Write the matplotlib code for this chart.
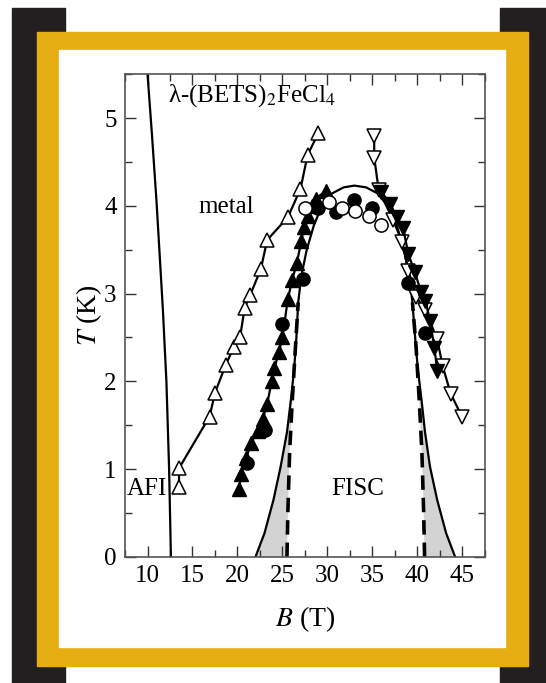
import numpy as np
import matplotlib
matplotlib.use('Agg')
import matplotlib.pyplot as plt
from matplotlib.patches import Rectangle
from matplotlib.ticker import MultipleLocator

plt.rcParams['font.family'] = 'serif'
plt.rcParams['font.serif'] = ['Liberation Serif', 'DejaVu Serif']
plt.rcParams['mathtext.fontset'] = 'stix'

# AFI boundary
afi_B = [10.0, 10.5, 11.0, 11.7, 12.1, 12.4, 12.6]
afi_T = [5.5, 4.8, 4.05, 2.83, 2.0, 1.0, 0.0]

# open up-triangles (metal boundary, low field side)
oup_B = [13.5, 13.5, 16.9, 17.5, 18.7, 19.6, 20.3, 20.8, 21.4, 22.6, 23.3, 25.6, 27.0, 27.8, 29.0]
oup_T = [0.80, 1.01, 1.60, 1.87, 2.19, 2.39, 2.51, 2.84, 2.98, 3.28, 3.61, 3.87, 4.19, 4.58, 4.83]

# open down-triangles (high field side)
odn_B = [35.2, 35.2, 35.7, 37.3, 38.3, 39.0, 39.9, 40.9, 42.2, 42.8, 43.7, 45.0]
odn_T = [4.79, 4.55, 4.18, 3.84, 3.59, 3.26, 2.96, 2.81, 2.48, 2.18, 1.86, 1.59]

# filled up-triangles
fup_B = [20.2, 20.4, 21.0, 21.5, 22.3, 22.8, 23.3, 23.8, 24.1, 24.6, 25.0, 25.6, 26.1, 26.6, 27.1, 27.4, 27.8, 28.3, 28.7, 29.8]
fup_T = [0.78, 0.94, 1.13, 1.30, 1.44, 1.57, 1.74, 2.00, 2.15, 2.33, 2.50, 2.94, 3.16, 3.35, 3.60, 3.76, 3.88, 4.00, 4.08, 4.17]

# filled down-triangles
fdn_B = [36.0, 37.0, 37.7, 38.4, 39.0, 39.7, 40.4, 40.9, 41.4, 41.9, 42.2]
fdn_T = [4.16, 4.02, 3.87, 3.75, 3.45, 3.25, 3.02, 2.92, 2.69, 2.38, 2.12]

# filled circles
fc_B = [21.1, 23.1, 25.0, 27.3, 28.9, 31.0, 33.0, 35.0, 39.0, 40.9]
fc_T = [1.07, 1.45, 2.65, 3.17, 3.97, 3.93, 4.07, 3.97, 3.12, 2.55]

# open circles
oc_B = [27.5, 30.2, 31.6, 33.1, 34.6, 36.0]
oc_T = [3.97, 4.04, 3.98, 3.94, 3.88, 3.78]

# FISC dome (solid)
dome_B = [22.0, 23.0, 24.0, 24.8, 25.5, 25.95, 26.3, 26.55, 26.75, 27.1, 27.7, 28.5, 29.4, 30.5, 31.8,
          33.0, 34.3, 35.6, 36.7, 37.7, 38.5, 39.1, 39.45, 39.75, 40.05, 40.45, 40.85, 41.4, 42.2, 43.2, 44.2]
dome_T = [0.0, 0.27, 0.65, 1.03, 1.42, 1.80, 2.14, 2.5, 2.9, 3.2, 3.5, 3.78, 4.0, 4.14, 4.21,
          4.23, 4.21, 4.14, 4.0, 3.78, 3.5, 3.2, 2.9, 2.5, 2.14, 1.80, 1.42, 1.03, 0.65, 0.27, 0.0]

# dashed boundaries
dl_B = [25.5, 25.6, 25.8, 26.1, 26.45, 26.75]
dl_T = [0.0, 0.5, 1.2, 1.8, 2.4, 2.9]
dr_B = [40.8, 40.7, 40.5, 40.2, 39.85, 39.45]
dr_T = [0.0, 0.5, 1.2, 1.8, 2.4, 2.9]

fig = plt.figure(figsize=(5.46, 6.83), dpi=100)
fig.patch.set_facecolor('white')
blk = '#231f20'
gold = '#e6ae12'
fig.patches.append(Rectangle((0.022, 0.0), 0.097, 0.988, transform=fig.transFigure, color=blk, zorder=0))
fig.patches.append(Rectangle((0.916, 0.0), 0.084, 0.988, transform=fig.transFigure, color=blk, zorder=0))
fig.patches.append(Rectangle((0.068, 0.025), 0.899, 0.928, transform=fig.transFigure, color=gold, zorder=1))
fig.patches.append(Rectangle((0.108, 0.053), 0.817, 0.874, transform=fig.transFigure, color='white', zorder=2))

ax = fig.add_axes([0.229, 0.1845, 0.659, 0.707])
ax.set_zorder(3)

# gray shading between dome and dashed lines (up to T = 1.8)
left_poly_B = dome_B[:6] + dl_B[:4][::-1]
left_poly_T = dome_T[:6] + dl_T[:4][::-1]
ax.fill(left_poly_B, left_poly_T, color='#d3d3d3', lw=0)
right_poly_B = dome_B[-6:] + dr_B[:4]
right_poly_T = dome_T[-6:] + dr_T[:4]
ax.fill(right_poly_B, right_poly_T, color='#d3d3d3', lw=0)

ax.plot(afi_B, afi_T, 'k-', lw=1.6)
ax.plot(dome_B, dome_T, 'k-', lw=1.6)
ax.plot(dl_B, dl_T, 'k--', lw=2.6, dashes=(4, 2.2))
ax.plot(dr_B, dr_T, 'k--', lw=2.6, dashes=(4, 2.2))

ms = 10
ax.plot(oup_B, oup_T, 'k-', marker='^', mfc='white', mec='k', ms=ms, mew=1.1, lw=1.6)
ax.plot(odn_B, odn_T, 'k-', marker='v', mfc='white', mec='k', ms=ms, mew=1.1, lw=1.6)
ax.plot(fup_B, fup_T, 'k-', marker='^', mfc='k', mec='k', ms=ms, lw=1.6)
ax.plot(fdn_B, fdn_T, 'k-', marker='v', mfc='k', mec='k', ms=ms, lw=1.6)
ax.plot(fc_B, fc_T, 'ko', ms=ms - 0.5, lw=0)
ax.plot(oc_B, oc_T, 'o', mfc='white', mec='k', ms=ms - 0.5, mew=1.1, lw=0)

ax.set_xlim(7.5, 47.5)
ax.set_ylim(0, 5.5)
ax.set_xticks([10, 15, 20, 25, 30, 35, 40, 45])
ax.xaxis.set_minor_locator(MultipleLocator(2.5))
ax.yaxis.set_major_locator(MultipleLocator(1))
ax.yaxis.set_minor_locator(MultipleLocator(0.5))
ax.tick_params(which='both', direction='in', top=True, right=True, labelsize=18, width=1, color='#333333')
ax.tick_params(which='major', length=8, pad=6)
ax.tick_params(which='minor', length=5)
for s in ax.spines.values():
    s.set_color('#555555')
    s.set_linewidth(1.2)

ax.set_xlabel('$B$ (T)', fontsize=20, labelpad=12)
ax.set_ylabel('$T$ (K)', fontsize=20, labelpad=0)

ax.text(12.3, 5.26, r'λ-(BETS)$_2$FeCl$_4$', fontsize=18, va='center', ha='left')
ax.text(18.7, 3.99, 'metal', fontsize=18, va='center', ha='center')
ax.text(7.7, 0.77, 'AFI', fontsize=18, va='center', ha='left')
ax.text(33.4, 0.77, 'FISC', fontsize=18, va='center', ha='center')

fig.savefig('out.png', dpi=100)
